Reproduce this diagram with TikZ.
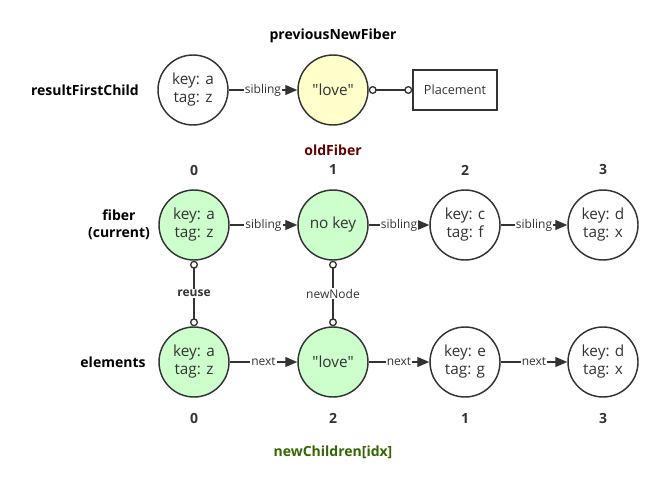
\documentclass[tikz,border=0pt]{standalone}
\usepackage{fontspec}
\setmainfont{Open Sans}[Ligatures=TeXOff]
\usetikzlibrary{arrows.meta}
\definecolor{ln}{HTML}{333333}
\definecolor{gfill}{HTML}{CCFFCC}
\definecolor{yfill}{HTML}{FFFFCC}
\definecolor{oldred}{HTML}{660000}
\definecolor{newgreen}{HTML}{336600}
\begin{document}
\begin{tikzpicture}[x=0.75pt,y=-0.75pt,
  fib/.style={circle,draw=ln,line width=1.1pt,minimum size=52.5pt,inner sep=0pt,align=center,text=ln,fill=white,font=\fontsize{11.5}{13.5}\selectfont},
  gnode/.style={fib,fill=gfill},
  ynode/.style={fib,fill=yfill},
  lbl/.style={font=\bfseries\fontsize{10.5}{13}\selectfont,align=center},
  idx/.style={font=\bfseries\fontsize{10.5}{12}\selectfont,text=ln},
  conn/.style={draw=ln,line width=0.9pt,-{Triangle[length=9pt,width=7.5pt]}},
  ring/.style={draw=ln,line width=0.9pt,{Circle[open,length=6pt,width=6pt,line width=1pt]}-{Circle[open,length=6pt,width=6pt,line width=1pt]}},
  elab/.style={fill=white,inner sep=0.8pt,text=ln,font=\fontsize{9}{10}\selectfont}
]
\useasboundingbox (0,0) rectangle (663,495);

% top row
\node[lbl] (prevlbl) at (333,36) {previousNewFiber};
\node[lbl] (rfclbl) at (85,90) {resultFirstChild};
\node[fib] (r0) at (193,90) {key: a\\tag: z};
\node[ynode] (r1) at (333,90) {"love"};
\node[draw=ln,line width=1.1pt,minimum width=63pt,minimum height=30pt,inner sep=0pt,text=ln,font=\fontsize{9.5}{11}\selectfont] (pl) at (455,90) {Placement};
\draw[conn] (r0) -- node[elab]{sibling} (r1);
\draw[ring] (r1) -- (pl);

\node[lbl,text=oldred] (oldlbl) at (333,150) {oldFiber};

% indices top
\node[idx] (i0) at (194,170) {0};
\node[idx] (i1) at (333,170) {1};
\node[idx] (i2) at (465,170) {2};
\node[idx] (i3) at (603,170) {3};

% fiber row
\node[lbl] (fiblbl) at (119,225) {fiber\\(current)};
\node[gnode] (f0) at (194,225) {key: a\\tag: z};
\node[gnode] (f1) at (333,225) {no key};
\node[fib] (f2) at (465,225) {key: c\\tag: f};
\node[fib] (f3) at (603,225) {key: d\\tag: x};
\draw[conn] (f0) -- node[elab]{sibling} (f1);
\draw[conn] (f1) -- node[elab]{sibling} (f2);
\draw[conn] (f2) -- node[elab]{sibling} (f3);

% elements row
\node[lbl] (ellbl) at (113,362) {elements};
\node[gnode] (e0) at (194,362) {key: a\\tag: z};
\node[gnode] (e1) at (333,362) {"love"};
\node[fib] (e2) at (465,362) {key: e\\tag: g};
\node[fib] (e3) at (603,362) {key: d\\tag: x};
\draw[conn] (e0) -- node[elab]{next} (e1);
\draw[conn] (e1) -- node[elab]{next} (e2);
\draw[conn] (e2) -- node[elab]{next} (e3);

% vertical links
\draw[ring] (f0) -- node[elab,font=\bfseries\fontsize{9}{10}\selectfont]{reuse} (e0);
\draw[ring] (f1) -- node[elab]{newNode} (e1);

% indices bottom
\node[idx] (j0) at (194,418) {0};
\node[idx] (j1) at (333,418) {2};
\node[idx] (j2) at (465,418) {1};
\node[idx] (j3) at (603,418) {3};

\node[lbl,text=newgreen] (nclbl) at (333,452) {newChildren[idx]};
\end{tikzpicture}
\end{document}
